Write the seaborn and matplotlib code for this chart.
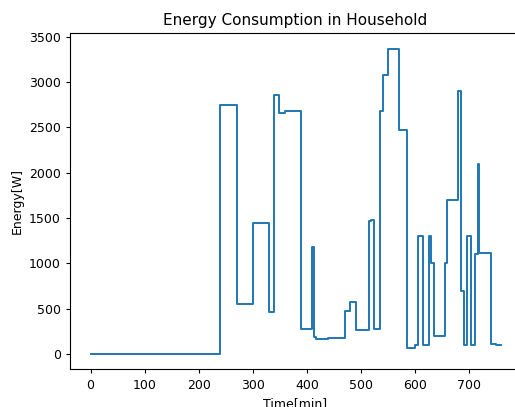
import matplotlib
matplotlib.use("Agg")
import matplotlib.pyplot as plt
import seaborn as sns
import pandas as pd

# Change points of the step signal (minute where a new level starts)
time_min = [0, 240, 270, 300, 330, 340, 349, 360, 390, 410, 414, 416, 440,
            470, 480, 490, 515, 519, 524, 535, 540, 550, 570, 585, 600, 605,
            614, 625, 630, 635, 655, 659, 680, 685, 690, 696, 704, 710, 716,
            719, 740, 750, 758]
energy_w = [0, 2750, 550, 1450, 460, 2860, 2660, 2680, 280, 1180, 190, 170, 180,
            470, 570, 270, 1470, 1480, 280, 2680, 3080, 3370, 2470, 70, 100, 1300,
            100, 1300, 1000, 200, 1000, 1700, 2900, 700, 100, 1300, 100, 1100, 2100,
            1110, 110, 100, 100]

df = pd.DataFrame({"Time[min]": time_min, "Energy[W]": energy_w})

fig = plt.figure(figsize=(5.15, 4.07), dpi=100)
ax = fig.add_axes([70 / 515, 37.7 / 407, 451 / 515, 336 / 407])

sns.lineplot(data=df, x="Time[min]", y="Energy[W]", ax=ax,
             drawstyle="steps-post", color="#1f77b4", linewidth=1.4)

ax.set_title("Energy Consumption in Household", fontsize=11)
ax.set_xlabel("Time[min]", fontsize=9)
ax.set_ylabel("Energy[W]", fontsize=9)
ax.tick_params(labelsize=9, length=3.2)
ax.set_xticks([0, 100, 200, 300, 400, 500, 600, 700])
ax.set_yticks([0, 500, 1000, 1500, 2000, 2500, 3000, 3500])

fig.savefig("out.png", dpi=100)
